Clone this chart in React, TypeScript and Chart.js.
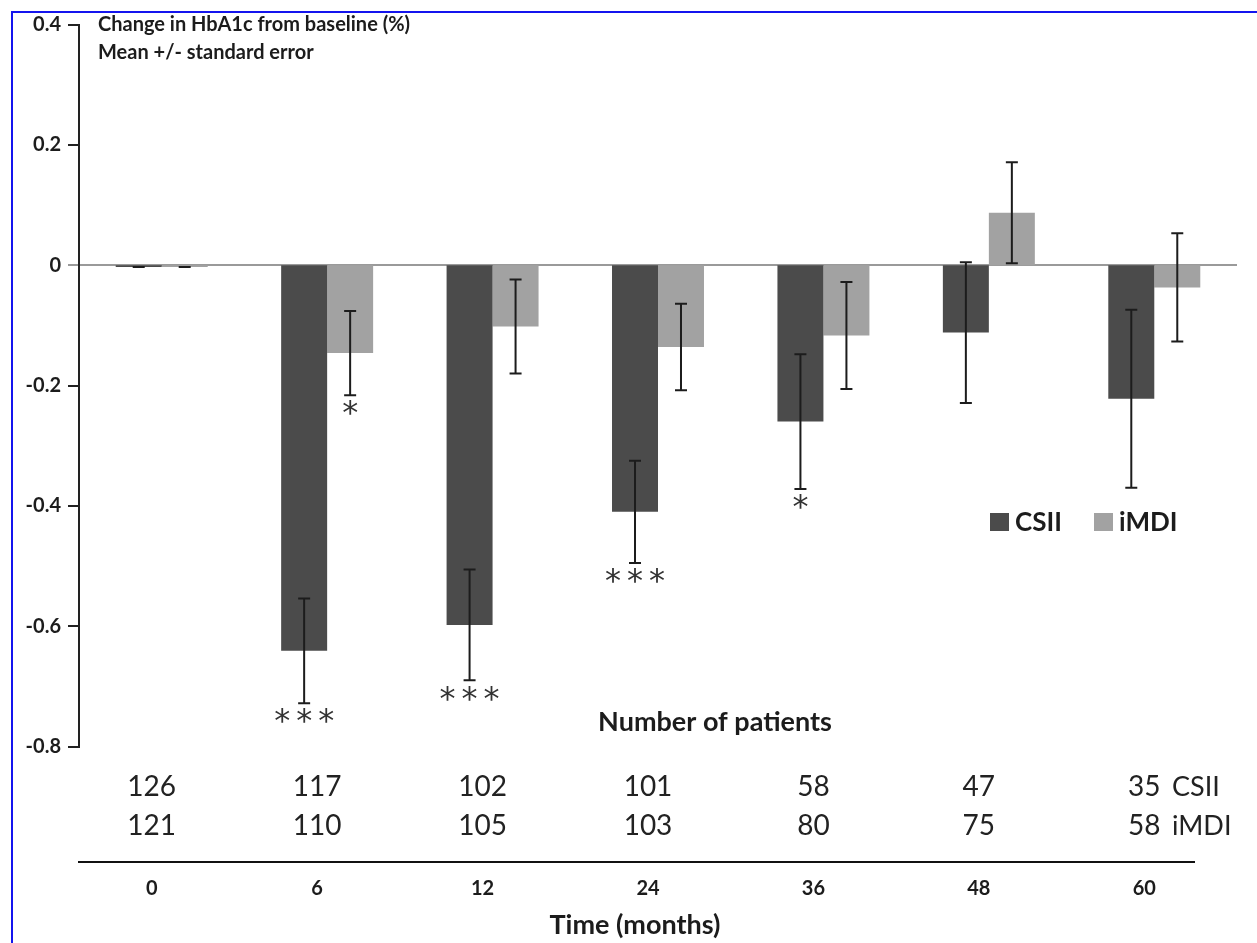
import React, { useEffect, useRef } from "react";
import { Chart, registerables } from "chart.js";

Chart.register(...registerables);

// ---- data ----
const months = ["0", "6", "12", "24", "36", "48", "60"];
const csiiMean = [-0.003, -0.641, -0.598, -0.41, -0.26, -0.112, -0.222];
const csiiSE = [0, 0.087, 0.092, 0.085, 0.112, 0.117, 0.148];
const imdiMean = [-0.003, -0.146, -0.102, -0.136, -0.117, 0.087, -0.037];
const imdiSE = [0, 0.07, 0.078, 0.072, 0.089, 0.084, 0.09];
const csiiN = [126, 117, 102, 101, 58, 47, 35];
const imdiN = [121, 110, 105, 103, 80, 75, 58];
const csiiStars = ["", "***", "***", "***", "*", "", ""];
const imdiStars = ["", "*", "", "", "", "", ""];
const seriesNames = ["CSII", "iMDI"];
const titleLines = ["Change in HbA1c from baseline (%)", "Mean +/- standard error"];
const tableTitle = "Number of patients";
const xTitle = "Time (months)";

const FONT = "Lato, 'Open Sans', sans-serif";
const DARK = "#4b4b4b";
const LIGHT = "#a2a2a2";
const INK = "#1c1c1c";

const overlay = {
  id: "overlay",
  afterDatasetsDraw(chart: any) {
    const ctx = chart.ctx;
    const ys = chart.scales.y;
    const groups: [number[], number[], string[]][] = [
      [csiiMean, csiiSE, csiiStars],
      [imdiMean, imdiSE, imdiStars],
    ];
    ctx.save();
    groups.forEach(([m, se, stars], di) => {
      const meta = chart.getDatasetMeta(di);
      meta.data.forEach((bar: any, i: number) => {
        const cx = bar.x;
        const yTop = ys.getPixelForValue(m[i] + se[i]);
        const yBot = ys.getPixelForValue(m[i] - se[i]);
        ctx.strokeStyle = INK;
        ctx.lineWidth = 2;
        ctx.beginPath();
        ctx.moveTo(cx, yTop);
        ctx.lineTo(cx, yBot);
        ctx.moveTo(cx - 6, yTop);
        ctx.lineTo(cx + 6, yTop);
        ctx.moveTo(cx - 6, yBot);
        ctx.lineTo(cx + 6, yBot);
        ctx.stroke();
        const s = stars[i];
        if (s) {
          ctx.fillStyle = "#333";
          ctx.font = `32px 'DejaVu Sans', sans-serif`;
          ctx.textAlign = "center";
          ctx.textBaseline = "top";
          const n = s.length;
          for (let k = 0; k < n; k++) {
            ctx.fillText("*", cx + (k - (n - 1) / 2) * 22, yBot + 4);
          }
        }
      });
    });
    ctx.restore();
  },
  afterDraw(chart: any) {
    const ctx = chart.ctx;
    const xs = chart.scales.x;
    ctx.save();
    // blue frame
    ctx.fillStyle = "#1414ee";
    ctx.fillRect(11, 11, 2, 943);
    ctx.fillRect(11, 11, 1257, 2);

    ctx.fillStyle = INK;
    ctx.textBaseline = "middle";
    // title lines
    ctx.textAlign = "left";
    ctx.font = `bold 20px ${FONT}`;
    ctx.fillText(titleLines[0], 98, 25);
    ctx.fillText(titleLines[1], 98, 53);

    // legend
    const legendItems = [
      { x: 990, color: DARK, label: seriesNames[0] },
      { x: 1094, color: LIGHT, label: seriesNames[1] },
    ];
    ctx.font = `bold 26px ${FONT}`;
    legendItems.forEach((it) => {
      ctx.fillStyle = it.color;
      ctx.fillRect(it.x, 513, 19, 18);
      ctx.fillStyle = INK;
      ctx.fillText(it.label, it.x + 25, 523);
    });

    // table
    ctx.font = `bold 27px ${FONT}`;
    ctx.textAlign = "center";
    ctx.fillText(tableTitle, 715, 722);
    ctx.font = `28px ${FONT}`;
    ctx.fillStyle = "#222";
    months.forEach((_, i) => {
      const px = xs.getPixelForValue(i) - 10;
      ctx.fillText(String(csiiN[i]), px, 787);
      ctx.fillText(String(imdiN[i]), px, 826);
    });
    ctx.textAlign = "left";
    ctx.font = `27px ${FONT}`;
    ctx.fillText(seriesNames[0], 1172, 787);
    ctx.fillText(seriesNames[1], 1172, 826);

    // separator line
    ctx.strokeStyle = "#111";
    ctx.lineWidth = 2;
    ctx.beginPath();
    ctx.moveTo(78, 862);
    ctx.lineTo(1195, 862);
    ctx.stroke();

    // month labels (category axis values)
    ctx.fillStyle = INK;
    ctx.textAlign = "center";
    ctx.font = `bold 20px ${FONT}`;
    months.forEach((m, i) => {
      ctx.fillText(m, xs.getPixelForValue(i) - 10, 889);
    });

    // x title
    ctx.font = `bold 27px ${FONT}`;
    ctx.fillText(xTitle, 635, 925);
    ctx.restore();
  },
};

export default function App() {
  const ref = useRef<HTMLCanvasElement | null>(null);
  useEffect(() => {
    if (!ref.current) return;
    const chart = new Chart(ref.current, {
      type: "bar",
      data: {
        labels: months,
        datasets: [
          { label: seriesNames[0], data: csiiMean, backgroundColor: DARK, borderWidth: 0 },
          { label: seriesNames[1], data: imdiMean, backgroundColor: LIGHT, borderWidth: 0 },
        ],
      },
      options: {
        responsive: false,
        animation: false,
        devicePixelRatio: 1,
        layout: { padding: { left: 10, right: 20, top: 24.5, bottom: 0 } },
        datasets: { bar: { categoryPercentage: 0.556, barPercentage: 1.0 } },
        plugins: { legend: { display: false }, tooltip: { enabled: false } },
        scales: {
          x: {
            offset: true,
            grid: { display: false },
            border: { display: false },
            ticks: { display: false },
            afterFit: (s: any) => {
              s.height = 943 - 746.5;
            },
          },
          y: {
            min: -0.8,
            max: 0.4,
            border: { display: true, color: "#222", width: 2 },
            grid: {
              drawOnChartArea: true,
              drawTicks: true,
              tickLength: 11,
              lineWidth: 2,
              tickWidth: 2,
              color: (c: any) => (Math.abs(c.tick.value) < 1e-9 ? "#9a9a9a" : "rgba(0,0,0,0)"),
              tickColor: (c: any) => (Math.abs(c.tick.value) < 1e-9 ? "#9a9a9a" : "#222"),
            },
            ticks: {
              stepSize: 0.2,
              padding: 7,
              color: INK,
              font: { family: FONT, size: 20, weight: "bold" },
              callback: (v: any) => (Math.abs(v) < 1e-9 ? "0" : Number(v).toFixed(1)),
            },
            afterFit: (s: any) => {
              s.width = 69;
            },
          },
        },
      },
      plugins: [overlay],
    });
    return () => chart.destroy();
  }, []);
  return (
    <div style={{ position: "absolute", left: 0, top: 0, width: 1257, height: 943, background: "#fff" }}>
      <canvas ref={ref} width={1257} height={943} style={{ width: 1257, height: 943, display: "block" }} />
    </div>
  );
}
